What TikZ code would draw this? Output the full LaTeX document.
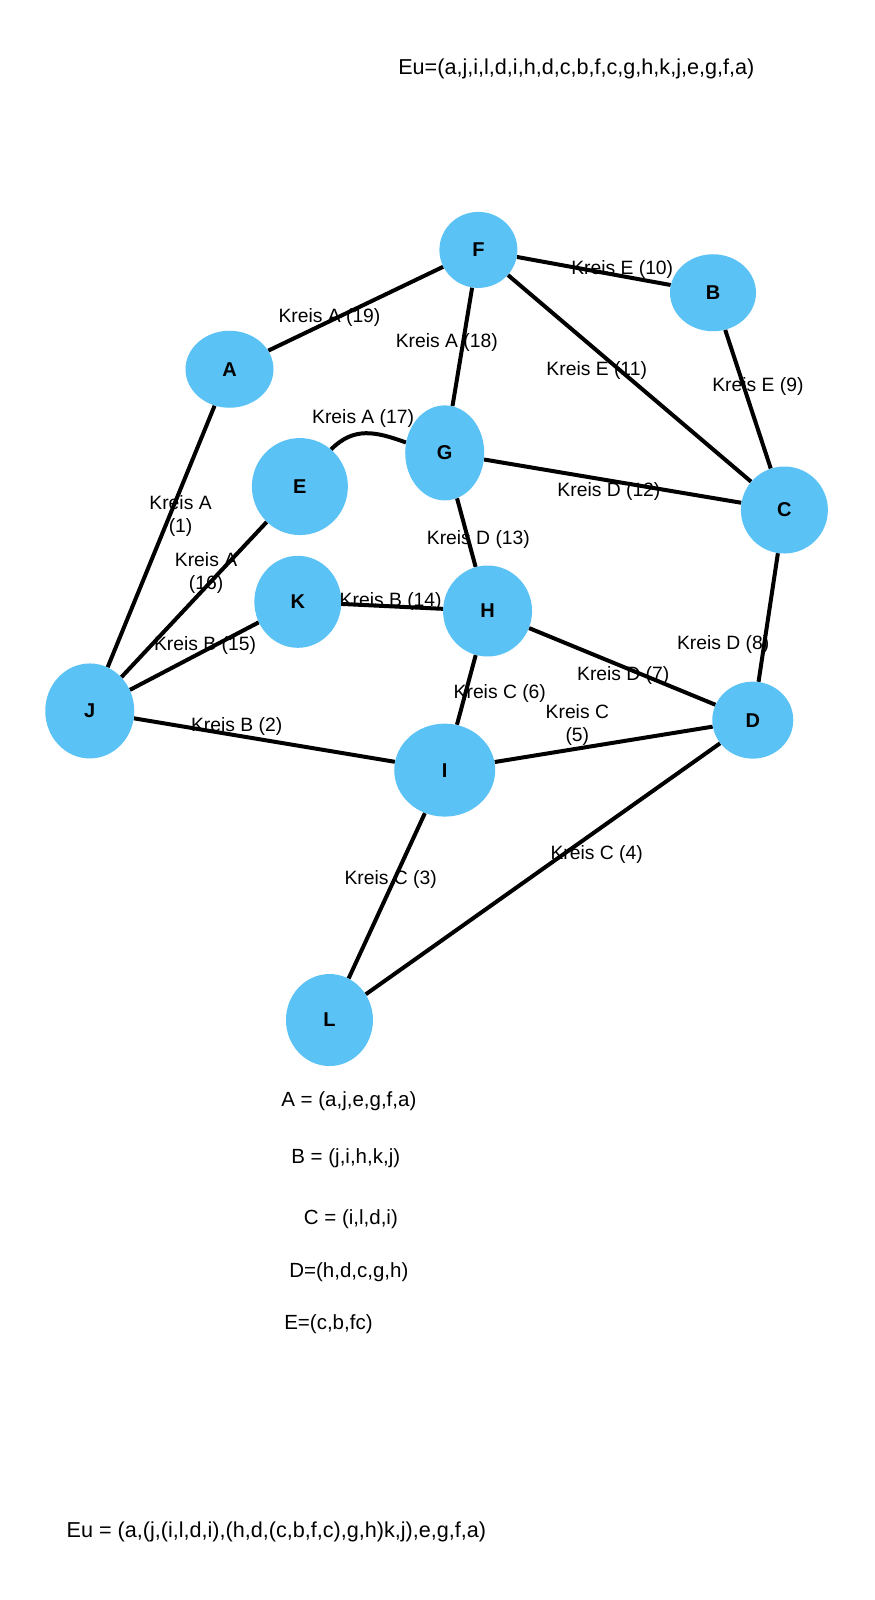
\documentclass[tikz,border=0pt]{standalone}
\usepackage{fontspec}
\setmainfont{Liberation Sans}
\usetikzlibrary{shapes.geometric}
\definecolor{nodeblue}{HTML}{5BC2F5}
\pgfdeclarelayer{bg}
\pgfsetlayers{bg,main}
\begin{document}
\begin{tikzpicture}[x=1.02pt,y=-1.02pt,
  vert/.style={ellipse,fill=nodeblue,draw=none,inner sep=0pt,font=\fontsize{20}{22}\selectfont\bfseries},
  edge/.style={line width=4pt,black},
  lbl/.style={font=\fontsize{19.3}{23}\selectfont,align=center,inner sep=0pt},
  txt/.style={font=\fontsize{20.5}{24}\selectfont,inner sep=0pt},
  eutxt/.style={font=\fontsize{21.6}{24}\selectfont,inner sep=0pt}]
\useasboundingbox (0,0) rectangle (857.8,1568.6);
% nodes
\node[vert,minimum width=78pt,minimum height=76pt] (F) at (469,245) {F};
\node[vert,minimum width=86pt,minimum height=77pt] (B) at (699,287) {B};
\node[vert,minimum width=88pt,minimum height=77pt] (A) at (225,362) {A};
\node[vert,minimum width=79pt,minimum height=95pt] (G) at (436,444) {G};
\node[vert,minimum width=96pt,minimum height=97pt] (E) at (294,477) {E};
\node[vert,minimum width=87pt,minimum height=87pt] (C) at (769,500) {C};
\node[vert,minimum width=87pt,minimum height=92pt] (K) at (292,590) {K};
\node[vert,minimum width=89pt,minimum height=91pt] (H) at (478,599) {H};
\node[vert,minimum width=89pt,minimum height=95pt] (J) at (88,697) {J};
\node[vert,minimum width=81pt,minimum height=77pt] (D) at (738,706) {D};
\node[vert,minimum width=101pt,minimum height=93pt] (I) at (436,755) {I};
\node[vert,minimum width=87pt,minimum height=92pt] (L) at (323,1000) {L};
% edges
\begin{pgfonlayer}{bg}
\draw[edge] (A) -- (F);
\draw[edge] (F) -- (G);
\draw[edge] (F) -- (B);
\draw[edge] (F) -- (C);
\draw[edge] (B) -- (C);
\draw[edge] (G) -- (C);
\draw[edge] (E.50) to[out=45,in=160,looseness=1.1] (G.165);
\draw[edge] (G) -- (H);
\draw[edge] (J) -- (A);
\draw[edge] (J) -- (E);
\draw[edge] (J) -- (K);
\draw[edge] (K) -- (H);
\draw[edge] (H) -- (D);
\draw[edge] (H) -- (I);
\draw[edge] (C) -- (D);
\draw[edge] (J) -- (I);
\draw[edge] (I) -- (D);
\draw[edge] (I) -- (L);
\draw[edge] (D) -- (L);
\end{pgfonlayer}
% edge labels
\node[lbl] (l19) at (323,311) {Kreis A (19)};
\node[lbl] (l18) at (438,336) {Kreis A (18)};
\node[lbl] (l10) at (610,264) {Kreis E (10)};
\node[lbl] (l11) at (585,363) {Kreis E (11)};
\node[lbl] (l9) at (743,379) {Kreis E (9)};
\node[lbl] (l17) at (356,410) {Kreis A (17)};
\node[lbl] (l12) at (597,482) {Kreis D (12)};
\node[lbl] (l1) at (177,506) {Kreis A\\(1)};
\node[lbl] (l13) at (469,529) {Kreis D (13)};
\node[lbl] (l16) at (202,562) {Kreis A\\(16)};
\node[lbl] (l14) at (383,590) {Kreis B (14)};
\node[lbl] (l15) at (201,633) {Kreis B (15)};
\node[lbl] (l8) at (709,632) {Kreis D (8)};
\node[lbl] (l7) at (611,662) {Kreis D (7)};
\node[lbl] (l6) at (490,680) {Kreis C (6)};
\node[lbl] (l5) at (566,711) {Kreis C\\(5)};
\node[lbl] (l2) at (232,712) {Kreis B (2)};
\node[lbl] (l4) at (585,838) {Kreis C (4)};
\node[lbl] (l3) at (383,862) {Kreis C (3)};
% texts
\node[eutxt] (eutop) at (565,68) {Eu=(a,j,i,l,d,i,h,d,c,b,f,c,g,h,k,j,e,g,f,a)};
\node[txt] (ka) at (342,1080) {A = (a,j,e,g,f,a)};
\node[txt] (kb) at (339,1135) {B = (j,i,h,k,j)};
\node[txt] (kc) at (344,1195) {C = (i,l,d,i)};
\node[txt] (kd) at (342,1247) {D=(h,d,c,g,h)};
\node[txt] (ke) at (322,1298) {E=(c,b,fc)};
\node[eutxt] (eubot) at (271,1502) {Eu = (a,(j,(i,l,d,i),(h,d,(c,b,f,c),g,h)k,j),e,g,f,a)};
\end{tikzpicture}
\end{document}
